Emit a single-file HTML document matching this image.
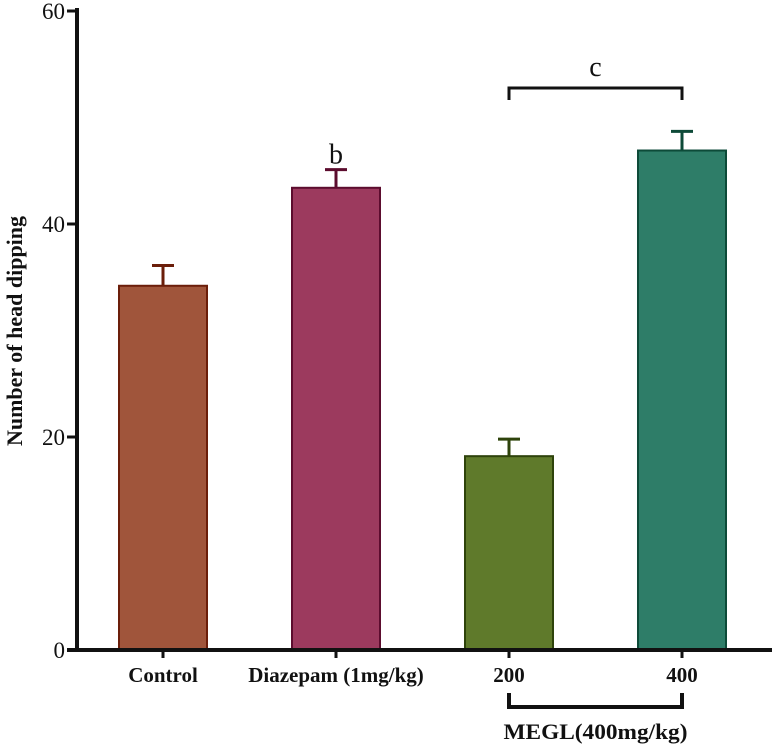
<!DOCTYPE html>
<html><head><meta charset="utf-8"><style>
body{margin:0;background:#fff}
text{font-family:"Liberation Serif",serif}
</style></head><body>
<svg width="775" height="746" viewBox="0 0 775 746">
<g id="chart"></g>
</svg>
<script>
const categories=["Control","Diazepam (1mg/kg)","200","400"];
const means=[34.2,43.4,18.2,46.9];
const errors=[1.9,1.7,1.6,1.8];
const yTicks=[0,20,40,60];
const fills=["#a0553b","#9c3a5e","#5f7a2b","#2e7d68"];
const strokes=["#6b1e0a","#5c0c2e","#2e430b","#0d4a38"];
const NS="http://www.w3.org/2000/svg";
const g=document.getElementById('chart');
const y0=650,yTop=11,yMax=60;
function y(v){return y0-(v/yMax)*(y0-yTop);}
function xc(i){return 163+i*173;}
const bw=88;
function mk(t,a,txt){const e=document.createElementNS(NS,t);for(const k in a)e.setAttribute(k,a[k]);if(txt!=null)e.textContent=txt;g.appendChild(e);return e;}
means.forEach((m,i)=>{
 const cx=xc(i);
 let e=mk('line',{x1:cx,x2:cx,y1:y(m),y2:y(m+errors[i]),stroke:strokes[i],'stroke-width':3});
 
 e=mk('line',{x1:cx-11,x2:cx+11,y1:y(m+errors[i]),y2:y(m+errors[i]),stroke:strokes[i],'stroke-width':3});
 
 e=mk('rect',{x:cx-bw/2,y:y(m),width:bw,height:y0-y(m),fill:fills[i],stroke:strokes[i],'stroke-width':2});
 
 e=mk('line',{x1:cx,x2:cx,y1:y0,y2:y0+8,stroke:'#111','stroke-width':3});
 
 e=mk('text',{x:cx,y:682,'text-anchor':'middle','font-size':21,'font-weight':'bold',fill:'#111'},categories[i]);
 
});
let a=mk('line',{x1:77,x2:77,y1:8,y2:652,stroke:'#111','stroke-width':4});

a=mk('line',{x1:67,x2:772,y1:y0,y2:y0,stroke:'#111','stroke-width':4});

yTicks.forEach(t=>{
 let e=mk('line',{x1:67,x2:77,y1:y(t),y2:y(t),stroke:'#111','stroke-width':3});
 
 e=mk('text',{x:65,y:y(t)+8,'text-anchor':'end','font-size':23,fill:'#111'},String(t));
 
});
let t=mk('text',{x:0,y:0,transform:'translate(22,331) rotate(-90)','text-anchor':'middle','font-size':22,'font-weight':'bold',fill:'#111'},'Number of head dipping');

t=mk('text',{x:xc(1),y:y(means[1]+errors[1])-6,'text-anchor':'middle','font-size':28,fill:'#111'},'b');

let p=mk('path',{d:`M${xc(2)},100 V88 H${xc(3)} V100`,fill:'none',stroke:'#111','stroke-width':3});

t=mk('text',{x:(xc(2)+xc(3))/2,y:76,'text-anchor':'middle','font-size':28,fill:'#111'},'c');

p=mk('path',{d:`M${xc(2)},693 V707 H${xc(3)} V693`,fill:'none',stroke:'#111','stroke-width':4});

t=mk('text',{x:(xc(2)+xc(3))/2,y:739,'text-anchor':'middle','font-size':22,'font-weight':'bold',fill:'#111',textLength:184,lengthAdjust:'spacingAndGlyphs'},'MEGL(400mg/kg)');

</script>
</body></html>
